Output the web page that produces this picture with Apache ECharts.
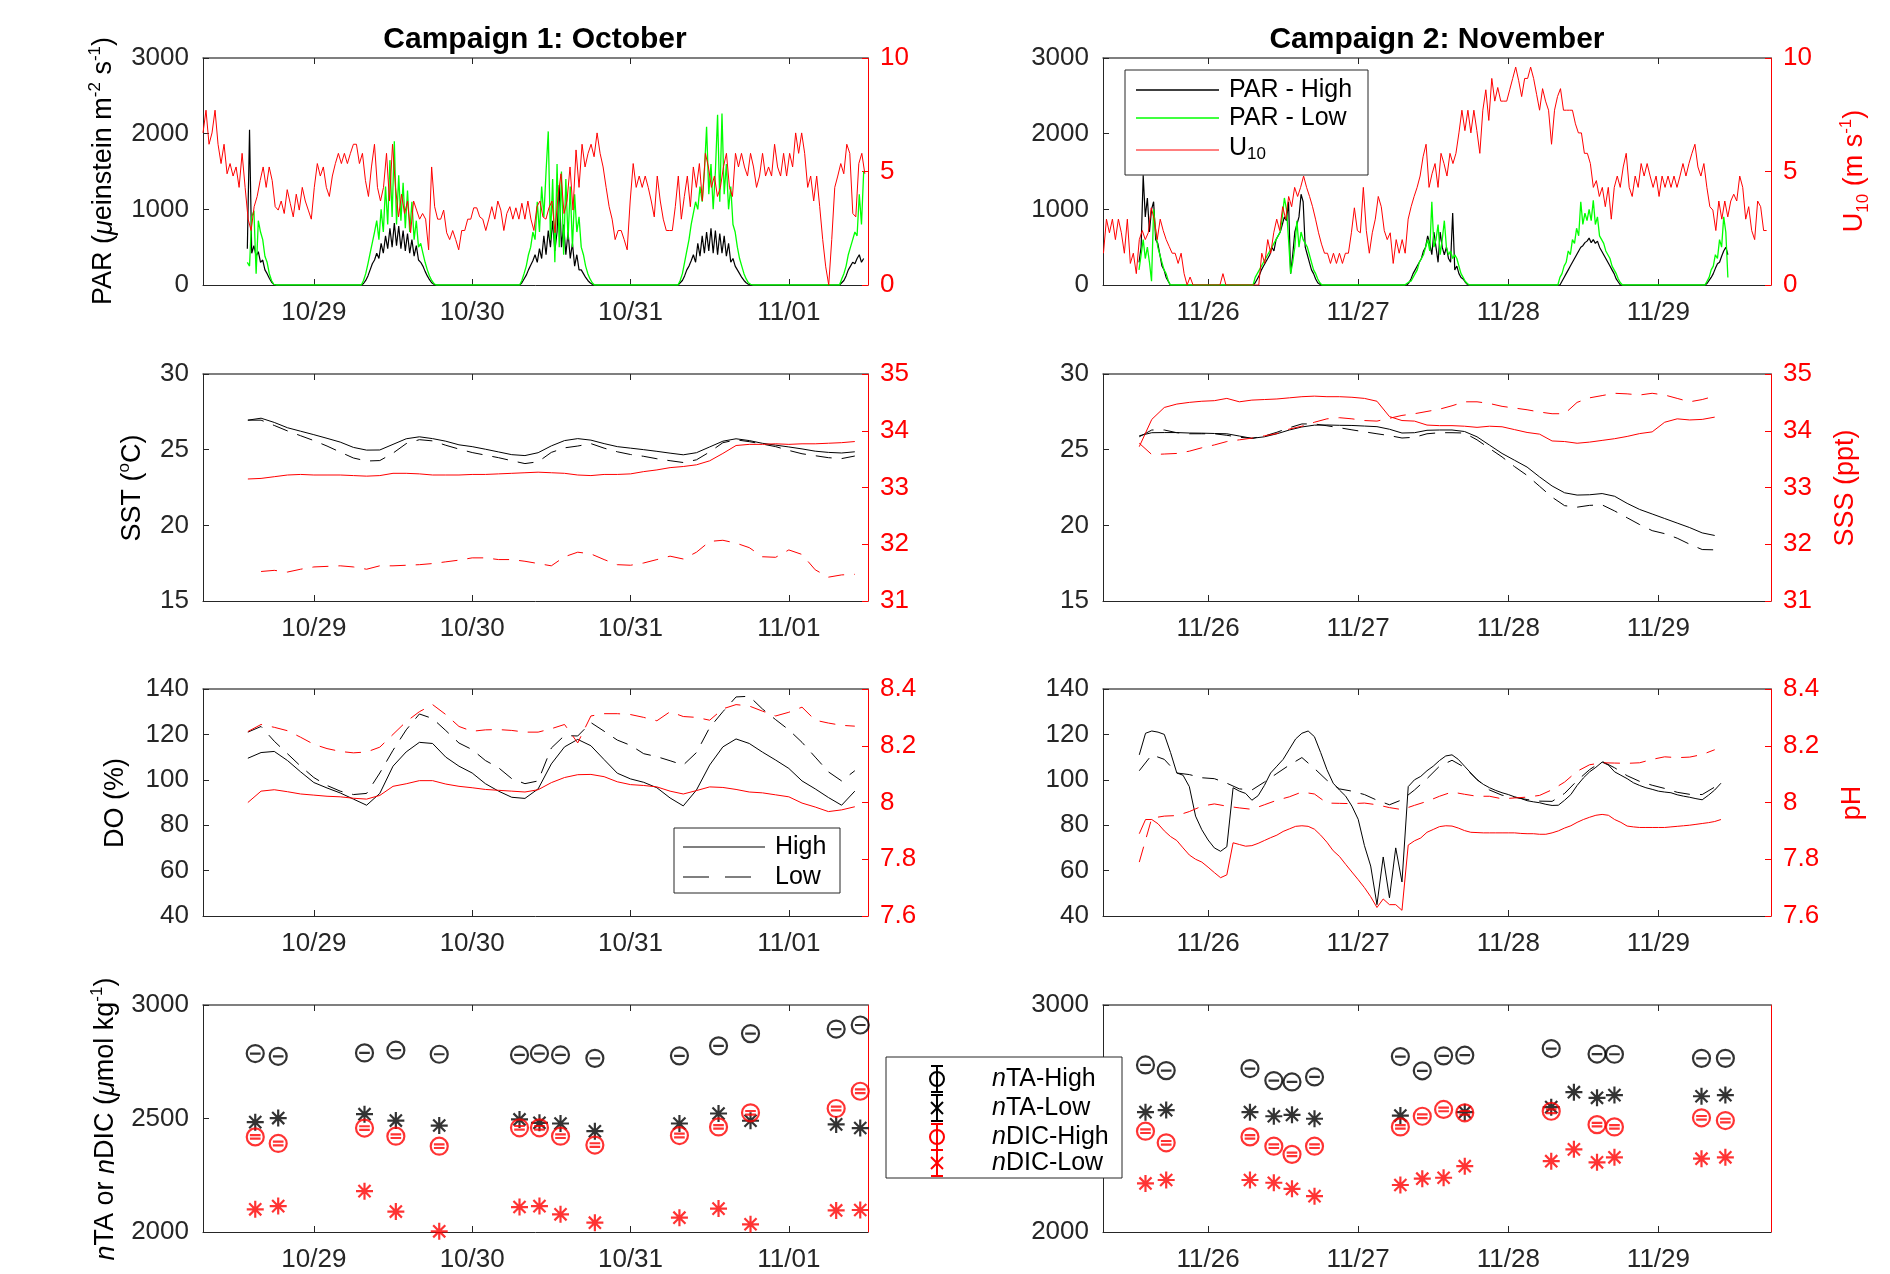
<!DOCTYPE html>
<html>
<head>
<meta charset="utf-8">
<script src="https://cdn.jsdelivr.net/npm/echarts@6/dist/echarts.min.js"></script>
<style>
  html, body { margin: 0; padding: 0; background: #ffffff; }
  #chart { width: 1890px; height: 1274px; }
</style>
</head>
<body>
<div id="chart"></div>
<script>
// ---------- time axes (days counted from the first labelled midnight) ----------
const octDayLabels = ['10/29', '10/30', '10/31', '11/01'];
const novDayLabels = ['11/26', '11/27', '11/28', '11/29'];
const octRange = [-0.70, 3.50];
const novRange = [-0.70, 3.75];

// ---------- PAR (daylight blocks, 20-min samples, zero at night) ----------
const PAR_STEP = 1 / 72;
const parOctStarts = [-0.42, 0.30, 1.30, 2.30, 3.32];
const parHighOct = [
  [480,2050,420,520,380,440,300,330,200,150,90,40,10,0],
  [0,20,60,120,200,280,330,420,350,550,420,650,480,750,500,820,520,780,480,720,450,680,420,600,380,520,330,300,250,180,120,70,30,10,0],
  [0,30,80,130,200,260,320,400,300,480,350,650,400,720,500,850,450,700,1320,500,800,400,700,350,550,250,400,200,200,150,100,60,30,10,0],
  [0,30,60,120,200,250,320,400,300,550,380,650,420,700,450,750,420,720,400,680,420,650,380,550,300,350,250,200,150,100,60,30,10,0,0],
  [0,30,60,120,200,250,300,280,350,400,300,350]
];
const parLowOct = [
  [300,250,900,980,150,850,700,600,380,300,150,60,10,0],
  [0,60,150,280,420,560,700,850,600,1000,700,1300,800,1650,900,1900,800,1450,850,1350,750,1250,700,1100,600,850,500,550,420,300,200,120,60,20,0],
  [0,60,150,250,400,500,700,600,1100,700,1300,900,1500,2030,600,1400,300,1600,500,1500,400,1400,600,1300,500,1200,700,900,500,400,250,150,80,30,0],
  [0,60,150,300,450,600,800,950,1100,1000,1300,1100,1500,2090,1200,1600,1000,1500,2250,1100,2266,1200,1600,1000,1300,800,700,500,350,250,150,80,30,10,0],
  [0,80,150,250,400,500,600,700,650,1200,800,1500]
];
const parNovStarts = [-0.46, 0.30, 1.31, 2.33, 3.31];
const parHighNov = [
  [300,500,1450,900,1150,700,1000,1100,600,550,400,250,200,100,50,0],
  [0,30,80,130,200,250,300,350,400,500,450,600,650,700,800,900,850,1100,150,400,700,800,900,1200,1100,500,400,300,200,150,80,30,10,0],
  [0,0,30,80,150,200,250,300,350,450,500,650,550,400,700,500,300,700,500,400,500,350,300,950,200,250,150,100,80,40,10,0],
  [0,0,50,100,150,200,250,300,350,400,450,500,520,560,580,620,560,600,550,580,500,450,400,350,300,250,200,150,80,40,0,0],
  [0,20,60,100,150,220,280,300,380,450,500,400]
];
const parLowNov = [
  [200,400,600,350,500,300,50,1000,700,500,400,300,200,150,60,0],
  [0,100,150,200,250,300,350,400,450,500,550,600,650,700,900,1150,1000,600,150,300,500,850,500,700,600,550,500,400,300,200,150,80,30,0],
  [0,20,40,50,100,150,200,300,350,400,500,600,450,1100,500,600,800,400,600,850,500,400,450,350,400,350,250,150,100,50,20,0],
  [0,100,150,250,300,450,400,600,550,750,650,1100,800,950,850,1000,850,1120,800,900,650,600,550,450,400,350,250,200,150,80,30,0],
  [0,50,100,200,250,400,350,600,500,900,700,100]
];

// ---------- U10 wind speed (m/s) ----------
const U10_OCT_T0 = -0.70, U10_OCT_STEP = 0.019;
const u10Oct = [6.7,7.7,6.2,6.7,7.7,6.2,5.35,6.2,4.9,5.35, 4.8,5.2,4.3,5.8,4.3,2.9,2.4,3.45,3.9,4.6,
  5.2,4.3,5.2,4.6,3.45,3.3,3.7,3.15,4.2,3.6, 3.0,4.0,3.3,4.3,3.7,3.3,2.9,4.3,5.35,4.8,
  5.2,4.3,3.9,4.8,5.35,5.8,5.35,5.8,5.35,5.8, 6.2,6.2,5.35,5.8,4.6,3.9,5.2,6.2,4.3,3.7,
  4.3,5.8,3.7,6.2,4.3,3.0,4.0,3.15,3.7,2.3, 3.7,3.3,2.9,3.15,2.9,1.55,5.2,3.45,2.9,2.9,
  3.3,2.3,2.0,2.4,2.0,1.55,2.4,2.4,2.9,2.9, 3.4,3.4,3.0,2.9,2.4,2.9,3.45,2.9,3.7,3.3,
  2.4,3.15,3.45,2.9,3.4,2.9,3.6,2.9,3.7,2.9, 2.4,3.45,3.7,3.0,2.9,3.4,3.7,2.3,3.9,4.9,
  3.15,3.7,5.2,3.3,5.95,4.3,6.2,5.2,5.8,6.2, 5.65,6.7,5.8,5.2,4.3,3.45,2.9,2.0,2.4,2.4,
  2.0,1.55,3.7,5.35,4.3,4.8,4.3,4.8,4.3,3.7, 3.0,4.8,3.7,2.9,2.4,2.4,2.4,3.45,4.8,2.9,
  3.9,4.8,3.45,5.2,4.3,5.35,3.7,5.8,5.2,4.3, 4.8,3.9,4.3,5.2,5.8,4.3,3.9,5.8,5.2,5.8,
  5.2,4.8,5.8,5.2,4.3,4.8,5.8,4.8,5.2,4.8, 6.2,5.2,4.8,5.8,4.8,5.8,5.2,6.7,5.8,6.7,
  5.8,4.3,4.8,3.7,4.8,3.45,2.0,0.8,0.0,2.0, 4.3,4.8,5.35,4.9,6.2,5.8,3.15,3.0,5.35,5.8, 4.9];
const U10_NOV_T0 = -0.697, U10_NOV_STEP = 0.0199;
const u10Nov = [1.4,2.9,2.3,2.9,2.0,2.9,2.3,1.4,2.9,0.95, 1.4,0.5,2.0,2.4,2.0,2.3,3.4,2.9,2.0,2.9,
  2.4,2.0,1.7,1.4,1.4,0.95,1.4,0.5,0,0.35, 0,0,0,0,0,0,0,0,0,0,
  0.5,0,0,0,0,0,0,0,0,0, 0,0,0,1.4,0.95,2.0,1.4,2.3,2.9,2.4,
  3.45,2.9,3.9,3.45,4.3,3.9,4.3,4.8,4.3,3.9, 3.45,2.9,2.3,1.8,1.4,1.4,0.95,1.4,0.95,1.4,
  0.95,1.4,1.4,2.3,3.4,2.4,2.3,4.3,2.4,1.4, 2.3,2.9,3.9,3.45,2.4,2.0,2.3,0.95,2.0,1.4,
  2.0,1.4,2.9,3.45,3.9,4.3,4.8,5.65,6.2,4.3, 4.9,5.35,4.3,5.8,5.35,4.8,5.8,5.35,5.8,6.7,
  7.7,6.8,7.7,6.7,7.7,6.8,5.8,7.7,8.6,7.25, 9.1,8.1,8.7,8.1,8.1,8.1,8.6,9.1,9.6,9.0,
  8.3,9.1,9.1,9.6,9.1,8.4,7.7,8.65,8.1,7.7, 6.2,7.7,8.3,8.65,7.7,7.7,7.7,7.7,7.1,6.7,
  6.7,5.8,5.8,5.35,4.3,4.6,3.9,4.3,3.45,4.3, 2.9,4.3,4.8,4.3,5.2,5.8,4.3,3.9,4.8,4.3,
  5.35,4.8,5.35,4.8,4.3,4.8,3.9,4.8,4.3,4.8, 4.3,4.8,4.3,4.8,5.35,4.8,5.35,5.8,6.2,5.2,
  4.8,5.35,4.3,3.45,3.3,2.4,3.7,2.9,3.7,3.0, 3.7,4.0,3.7,4.8,4.3,2.9,3.45,2.4,2.0,3.7,
  3.45,2.4,2.4];

// ---------- SST / SSS, DO / pH (2-hourly; November High DO & pH hourly) ----------
const OCT_T0 = -5 / 12, NOV_T0 = -11 / 24, STEP_2H = 1 / 12, STEP_1H = 1 / 24;
const sstHighOct = [26.95,27.08,26.8,26.45,26.22,25.99,25.75,25.5,25.15,24.97,24.98,25.35,25.72,25.85,25.73,25.56,25.32,25.2,25.03,24.85,24.67,24.61,24.8,25.25,25.6,25.73,25.63,25.4,25.2,25.1,25.0,24.89,24.77,24.66,24.8,25.18,25.56,25.72,25.6,25.42,25.3,25.18,25.05,24.9,24.82,24.78,24.86];
const sstLowOct = [26.95,26.95,26.6,26.24,25.92,25.6,25.24,24.84,24.45,24.25,24.28,24.77,25.4,25.66,25.58,25.29,25.04,24.81,24.64,24.47,24.27,24.08,24.2,24.82,25.12,25.24,25.4,25.1,24.86,24.68,24.56,24.4,24.27,24.15,24.33,24.85,25.46,25.65,25.53,25.37,25.2,24.95,24.73,24.6,24.47,24.41,24.58];
const sssHighOct = [33.15,33.16,33.19,33.22,33.23,33.22,33.22,33.22,33.21,33.2,33.21,33.25,33.25,33.24,33.22,33.22,33.22,33.23,33.23,33.24,33.25,33.26,33.27,33.26,33.25,33.22,33.21,33.23,33.23,33.24,33.28,33.31,33.35,33.37,33.4,33.47,33.6,33.74,33.76,33.76,33.77,33.76,33.77,33.77,33.78,33.79,33.81];
const sssLowOct = [null,31.52,31.54,31.51,31.56,31.6,31.61,31.62,31.6,31.56,31.62,31.62,31.63,31.64,31.66,31.69,31.72,31.76,31.76,31.73,31.73,31.7,31.66,31.62,31.78,31.86,31.83,31.73,31.64,31.63,31.67,31.73,31.79,31.74,31.86,32.05,32.07,32.02,31.94,31.78,31.77,31.9,31.82,31.55,31.42,31.46,31.47];
const sstHighNov = [25.92,26.12,26.13,26.13,26.1,26.09,26.07,26.05,25.9,25.75,25.85,26.05,26.3,26.5,26.62,26.63,26.61,26.6,26.56,26.52,26.35,26.1,26.12,26.28,26.3,26.3,26.2,25.85,25.3,24.75,24.3,23.85,23.2,22.6,22.15,22.0,22.02,22.1,21.92,21.45,21.05,20.75,20.45,20.15,19.85,19.5,19.33];
const sstLowNov = [25.85,26.3,26.3,26.12,26.05,26.05,26.05,25.95,25.82,25.75,25.9,26.15,26.45,26.7,26.7,26.58,26.45,26.31,26.18,26.05,25.93,25.77,25.82,26.05,26.12,26.12,26.1,25.65,25.08,24.52,23.88,23.3,22.58,21.86,21.3,21.2,21.32,21.35,20.95,20.5,20.05,19.65,19.45,19.15,18.75,18.4,18.38];
const sssHighNov = [33.72,34.2,34.41,34.47,34.5,34.52,34.53,34.57,34.51,34.54,34.55,34.56,34.58,34.6,34.61,34.6,34.6,34.59,34.57,34.52,34.25,34.18,34.17,34.1,34.09,34.09,34.08,34.06,34.08,34.07,34.02,33.97,33.94,33.82,33.81,33.78,33.8,33.83,33.86,33.9,33.95,33.98,34.15,34.21,34.19,34.2,34.24];
const sssLowNov = [33.78,33.58,33.59,33.6,33.64,33.7,33.75,33.81,33.84,33.87,33.91,33.95,34.03,34.08,34.15,34.21,34.23,34.21,34.18,34.17,34.22,34.27,34.3,34.34,34.38,34.44,34.51,34.51,34.48,34.43,34.4,34.37,34.33,34.3,34.3,34.5,34.58,34.62,34.66,34.65,34.63,34.66,34.63,34.57,34.51,34.55,34.61];

const doHighOct = [109.5,112,112.5,108.5,103.5,98.8,96.4,94.2,91.5,88.8,94,106,112.3,116.5,116,110,106,103,98.3,95,92.3,91.8,96,107,114.5,117.8,115,108.9,102.9,100.4,98.9,96.5,92,88.5,95.5,106.5,114.5,118,116,112.2,108.7,105,99.5,96,92.2,88.8,95];
const doLowOct = [121,123.5,117,111.5,106,101,97.5,95,93.5,94,103,113,122,129,127,121.7,116.2,113.3,108.5,105.3,100.5,98.3,99.5,114,119.5,119.3,125.2,121.4,117.5,115.2,111.5,110.2,108.4,106.5,112,123,130,136.5,136.8,131.2,126.5,122,116.5,110,103.5,99.5,104];
const phHighOct = [8.0,8.04,8.045,8.038,8.03,8.026,8.022,8.02,8.015,8.012,8.025,8.057,8.066,8.077,8.077,8.065,8.057,8.052,8.046,8.043,8.04,8.037,8.045,8.07,8.088,8.098,8.099,8.091,8.073,8.063,8.06,8.055,8.04,8.03,8.042,8.055,8.053,8.046,8.037,8.034,8.027,8.02,7.998,7.984,7.968,7.974,7.985];
const phLowOct = [8.25,8.275,8.265,8.253,8.23,8.205,8.19,8.18,8.175,8.178,8.195,8.24,8.285,8.32,8.345,8.31,8.268,8.251,8.256,8.257,8.254,8.248,8.248,8.26,8.275,8.21,8.305,8.313,8.313,8.31,8.3,8.288,8.32,8.303,8.3,8.29,8.33,8.345,8.34,8.322,8.305,8.318,8.336,8.29,8.28,8.272,8.269];
const doHighNov = [111,120.5,121.5,121,120,112,103,102,97,84,78,73.5,70,68.5,70.5,96.5,95,94,91,93,97.5,103,106,109,113.5,118,120.5,121.5,119,112,104.5,98.5,95.5,92.8,88.4,82.6,71,62,45,66,48,70,55,97,100,101.5,104,106,108.5,110.5,111,109,106,103,100.1,98,96.5,95.3,94.3,93.5,92.5,91.8,90.8,90.3,89.9,89.2,88.7,88.8,91,93.5,97.5,100.8,103.5,105.5,107.8,106.5,103.5,102,100.5,98.7,97.5,96.5,95.8,95,94.6,94.3,93.4,92.8,92.3,91.7,91.2,93.2,95.5,98.5];
const doLowNov = [104,111,109,103,102.3,100.9,100.5,98.5,96,95.5,99,102.8,106.5,109.8,105,99.8,96,95,93.5,91,89,91.2,95.5,100.5,106,108.6,105.5,100.1,95.5,93.2,92.3,91.3,90.6,90.5,94,99.6,104.5,108.1,105.3,101.8,99.3,97.6,96.2,94.5,93.6,93.5,96.8];
const phHighNov = [7.89,7.94,7.94,7.925,7.9,7.88,7.866,7.84,7.815,7.8,7.79,7.772,7.753,7.735,7.745,7.858,7.852,7.846,7.848,7.856,7.866,7.876,7.885,7.898,7.907,7.916,7.918,7.916,7.906,7.885,7.86,7.83,7.81,7.782,7.755,7.728,7.7,7.668,7.63,7.66,7.64,7.64,7.62,7.85,7.865,7.875,7.895,7.905,7.915,7.918,7.917,7.91,7.901,7.895,7.894,7.893,7.893,7.893,7.893,7.893,7.893,7.891,7.89,7.89,7.888,7.888,7.893,7.9,7.91,7.918,7.93,7.94,7.948,7.955,7.958,7.955,7.94,7.93,7.917,7.914,7.912,7.912,7.912,7.912,7.912,7.914,7.916,7.918,7.92,7.923,7.926,7.929,7.933,7.94];
const phLowNov = [7.79,7.945,7.952,7.954,7.968,7.987,7.995,7.987,7.981,7.976,7.992,8.008,8.02,8.037,8.03,7.998,7.997,7.996,7.998,7.992,7.982,7.975,7.99,8.004,8.022,8.037,8.029,8.022,8.022,8.013,8.016,8.019,8.025,8.045,8.072,8.11,8.133,8.14,8.139,8.138,8.14,8.152,8.161,8.158,8.16,8.169,8.186];

// ---------- discrete carbonate samples (µmol/kg) ----------
const octSampleDays = [-0.37,-0.225,0.32,0.518,0.792,1.299,1.425,1.558,1.775,2.309,2.556,2.758,3.299,3.451];
const ntaHighOct = [2786,2774,2789,2801,2783,2780,2786,2780,2765,2776,2820,2874,2894,2912];
const ntaLowOct  = [2484,2502,2519,2491,2469,2496,2481,2478,2444,2478,2522,2490,2474,2458];
const ndicHighOct = [2419,2390,2458,2422,2378,2459,2459,2422,2383,2425,2463,2525,2544,2620];
const ndicLowOct  = [2100,2114,2180,2090,2003,2110,2114,2078,2041,2063,2103,2034,2095,2097];
const novSampleDays = [-0.417,-0.279,0.279,0.438,0.559,0.709,1.281,1.427,1.569,1.710,2.286,2.437,2.591,2.707,3.287,3.446];
const ntaHighNov = [2736,2711,2720,2667,2661,2683,2773,2710,2776,2779,2808,null,2784,2783,2765,2765];
const ntaLowNov  = [2528,2537,2528,2510,2516,2499,2513,null,null,2528,2550,2616,2591,2603,2598,2603];
const ndicHighNov = [2444,2393,2419,2378,2342,2378,2463,2510,2540,2525,2532,null,2473,2463,2503,2491];
const ndicLowNov  = [2214,2229,2229,2217,2190,2158,2207,2235,2239,2290,2312,2364,2307,2329,2323,2329];

// ---------- styling ----------
const FONT = '"Liberation Sans", Arial, Helvetica, sans-serif';
const INK = '#000000', AXIS = '#262626', RED = '#ff0000', GREEN = '#00ff00';
const LEFTS = [203, 1103], WIDTHS = [665, 668], TOPS = [58, 374, 689, 1005], HEIGHT = 227;
const DASH = [16, 10];

// ---------- helpers ----------
const series2 = (vals, t0, step) => vals.map((v, i) => [t0 + i * step, v]);
const blockSeries = (starts, blocks, step) => {
  const out = [];
  blocks.forEach((b, k) => b.forEach((v, i) => out.push([starts[k] + i * step, v])));
  return out;
};
const pairs = (days, vals) => days.map((d, i) => [d, vals[i]]);

const grids = [];
const xAxes = [];
const yAxes = [];
const yRows = [
  [{ min: 0, max: 3000, interval: 1000 }, { min: 0, max: 10, interval: 5 }],
  [{ min: 15, max: 30, interval: 5 }, { min: 31, max: 35, interval: 1 }],
  [{ min: 40, max: 140, interval: 20 }, { min: 7.6, max: 8.4, interval: 0.2 }],
  [{ min: 2000, max: 3000, interval: 500 }, { min: 2000, max: 3000, interval: 500 }]
];
const fmt = v => String(+v.toFixed(1));

for (let r = 0; r < 4; r++) {
  for (let c = 0; c < 2; c++) {
    const g = r * 2 + c;
    grids.push({ left: LEFTS[c], top: TOPS[r], width: WIDTHS[c], height: HEIGHT, containLabel: false });
    const range = c === 0 ? octRange : novRange;
    const labels = c === 0 ? octDayLabels : novDayLabels;
    const ticks = labels.map((_, i) => i);
    xAxes.push({
      type: 'value', gridIndex: g, position: 'bottom', min: range[0], max: range[1],
      axisLine: { show: true, onZero: false, lineStyle: { color: AXIS, width: 1 } },
      axisTick: { show: true, inside: true, length: 6, customValues: ticks, lineStyle: { color: AXIS } },
      axisLabel: { show: true, customValues: ticks, formatter: v => labels[Math.round(v)],
        fontSize: 26, fontFamily: FONT, color: AXIS, margin: 15 },
      splitLine: { show: false }
    });
    xAxes.push({
      type: 'value', gridIndex: g, position: 'top', min: range[0], max: range[1],
      axisLine: { show: true, onZero: false, lineStyle: { color: '#555555', width: 1.5 } },
      axisTick: { show: true, inside: true, length: 6, customValues: ticks, lineStyle: { color: AXIS } },
      axisLabel: { show: false }, splitLine: { show: false }
    });
    const L = yRows[r][0], R = yRows[r][1];
    const leftInterval = (r === 3 && c === 1) ? 1000 : L.interval;
    yAxes.push({
      type: 'value', gridIndex: g, position: 'left', min: L.min, max: L.max, interval: leftInterval,
      axisLine: { show: true, onZero: false, lineStyle: { color: AXIS, width: 1 } },
      axisTick: { show: true, inside: true, length: 6, lineStyle: { color: AXIS } },
      axisLabel: { show: true, formatter: fmt, fontSize: 26, fontFamily: FONT, color: AXIS, margin: 14 },
      splitLine: { show: false }
    });
    const lastRow = r === 3;
    yAxes.push({
      type: 'value', gridIndex: g, position: 'right', min: R.min, max: R.max, interval: R.interval,
      axisLine: { show: true, onZero: false, lineStyle: { color: RED, width: 1 } },
      axisTick: { show: !lastRow, inside: true, length: 6, lineStyle: { color: RED } },
      axisLabel: { show: !lastRow, formatter: fmt, fontSize: 26, fontFamily: FONT, color: RED, margin: 12 },
      splitLine: { show: false }
    });
  }
}

const line = (g, side, data, color, dashed, width) => ({
  type: 'line', xAxisIndex: 2 * g, yAxisIndex: 2 * g + side, data,
  showSymbol: false, symbol: 'none', silent: true, animation: false,
  lineStyle: { color, width: width || 1, type: dashed ? DASH : 'solid' },
  emphasis: { disabled: true }
});

const CIRCLE_BAR = 'path://M0,8A8,8,0,1,1,0,-8A8,8,0,1,1,0,8ZM-5,0L5,0';
const CIRCLE_BAR2 = 'path://M0,8A8,8,0,1,1,0,-8A8,8,0,1,1,0,8ZM-5,-1.7L5,-1.7M-5,1.7L5,1.7';
const ASTER = 'path://M0,-8L0,8M-8,0L8,0M-5.7,-5.7L5.7,5.7M-5.7,5.7L5.7,-5.7';
const marks = (g, data, symbol, color) => ({
  type: 'scatter', xAxisIndex: 2 * g, yAxisIndex: 2 * g, data,
  symbol, symbolSize: 17, symbolKeepAspect: true, silent: true, animation: false,
  itemStyle: { color: 'rgba(0,0,0,0)', borderColor: color, borderWidth: 2.2 },
  emphasis: { disabled: true }
});

const series = [
  // PAR & U10
  line(0, 0, blockSeries(parOctStarts, parHighOct, PAR_STEP), INK, false, 1.2),
  line(0, 0, blockSeries(parOctStarts, parLowOct, PAR_STEP), GREEN, false, 1.3),
  line(0, 1, series2(u10Oct, U10_OCT_T0, U10_OCT_STEP), RED),
  line(1, 0, blockSeries(parNovStarts, parHighNov, PAR_STEP), INK, false, 1.2),
  line(1, 0, blockSeries(parNovStarts, parLowNov, PAR_STEP), GREEN, false, 1.3),
  line(1, 1, series2(u10Nov, U10_NOV_T0, U10_NOV_STEP), RED),
  // SST & SSS
  line(2, 0, series2(sstHighOct, OCT_T0, STEP_2H), INK),
  line(2, 0, series2(sstLowOct, OCT_T0, STEP_2H), INK, true),
  line(2, 1, series2(sssHighOct, OCT_T0, STEP_2H), RED),
  line(2, 1, series2(sssLowOct, OCT_T0, STEP_2H), RED, true),
  line(3, 0, series2(sstHighNov, NOV_T0, STEP_2H), INK),
  line(3, 0, series2(sstLowNov, NOV_T0, STEP_2H), INK, true),
  line(3, 1, series2(sssHighNov, NOV_T0, STEP_2H), RED),
  line(3, 1, series2(sssLowNov, NOV_T0, STEP_2H), RED, true),
  // DO & pH
  line(4, 0, series2(doHighOct, OCT_T0, STEP_2H), INK),
  line(4, 0, series2(doLowOct, OCT_T0, STEP_2H), INK, true),
  line(4, 1, series2(phHighOct, OCT_T0, STEP_2H), RED),
  line(4, 1, series2(phLowOct, OCT_T0, STEP_2H), RED, true),
  line(5, 0, series2(doHighNov, NOV_T0, STEP_1H), INK),
  line(5, 0, series2(doLowNov, NOV_T0, STEP_2H), INK, true),
  line(5, 1, series2(phHighNov, NOV_T0, STEP_1H), RED),
  line(5, 1, series2(phLowNov, NOV_T0, STEP_2H), RED, true),
  // nTA & nDIC samples
  marks(6, pairs(octSampleDays, ntaHighOct), CIRCLE_BAR, INK),
  marks(6, pairs(octSampleDays, ntaLowOct), ASTER, INK),
  marks(6, pairs(octSampleDays, ndicHighOct), CIRCLE_BAR2, RED),
  marks(6, pairs(octSampleDays, ndicLowOct), ASTER, RED),
  marks(7, pairs(novSampleDays, ntaHighNov), CIRCLE_BAR, INK),
  marks(7, pairs(novSampleDays, ntaLowNov), ASTER, INK),
  marks(7, pairs(novSampleDays, ndicHighNov), CIRCLE_BAR2, RED),
  marks(7, pairs(novSampleDays, ndicLowNov), ASTER, RED)
];

// ---------- titles, axis names and legends ----------
const rich = color => ({
  it: { fontStyle: 'italic', fontSize: 27, fontFamily: FONT, fill: color, lineHeight: 34 },
  sup: { fontSize: 17, fontFamily: FONT, fill: color, lineHeight: 18, verticalAlign: 'top' },
  sub: { fontSize: 17, fontFamily: FONT, fill: color, lineHeight: 18, verticalAlign: 'bottom' }
});
const vText = (x, y, text, color) => ({
  type: 'text', x, y, rotation: Math.PI / 2, z: 100,
  style: { text, fontSize: 27, fontFamily: FONT, fill: color, lineHeight: 34,
    align: 'center', verticalAlign: 'middle', rich: rich(color) }
});
const hText = (x, y, text, size, color) => ({
  type: 'text', x, y, z: 101,
  style: { text, fontSize: size, fontFamily: FONT, fill: color, lineHeight: 30,
    align: 'left', verticalAlign: 'middle', rich: {
      it: { fontStyle: 'italic', fontSize: size, fontFamily: FONT, fill: color, lineHeight: 30 },
      sub: { fontSize: 17, fontFamily: FONT, fill: color, lineHeight: 16, verticalAlign: 'bottom' }
    } }
});
const seg = (x1, y1, x2, y2, color, width, dash) => ({
  type: 'line', z: 101, shape: { x1, y1, x2, y2 },
  style: { stroke: color, lineWidth: width, lineDash: dash || null }
});
const box = (x, y, w, h) => ({
  type: 'rect', z: 100, shape: { x, y, width: w, height: h },
  style: { fill: '#ffffff', stroke: AXIS, lineWidth: 1 }
});
// error-bar legend glyph: vertical bar with caps and the sample marker
const icon = (cx, cy, kind, color) => {
  const parts = [
    seg(cx, cy - 13, cx, cy + 13, color, 2),
    seg(cx - 6, cy - 13, cx + 6, cy - 13, color, 2),
    seg(cx - 6, cy + 13, cx + 6, cy + 13, color, 2)
  ];
  if (kind === 'circle') {
    parts.push({ type: 'circle', z: 102, shape: { cx, cy, r: 7 }, style: { fill: 'none', stroke: color, lineWidth: 2 } });
  } else {
    parts.push(seg(cx - 6, cy - 6, cx + 6, cy + 6, color, 2), seg(cx - 6, cy + 6, cx + 6, cy - 6, color, 2));
  }
  return parts;
};

const graphics = [
  { type: 'text', x: 535, y: 40, z: 100, style: { text: 'Campaign 1: October', fontSize: 30, fontWeight: 'bold',
      fontFamily: FONT, fill: INK, align: 'center', verticalAlign: 'middle' } },
  { type: 'text', x: 1437, y: 40, z: 100, style: { text: 'Campaign 2: November', fontSize: 30, fontWeight: 'bold',
      fontFamily: FONT, fill: INK, align: 'center', verticalAlign: 'middle' } },
  vText(104, 171, 'PAR ({it|μ}einstein m{sup|-2} s{sup|-1})', INK),
  vText(133, 488, 'SST ({sup|o}C)', INK),
  vText(116, 803, 'DO (%)', INK),
  vText(106, 1119, '{it|n}TA or {it|n}DIC ({it|μ}mol kg{sup|-1})', INK),
  vText(1855, 171, 'U{sub|10} (m s{sup|-1})', RED),
  vText(1846, 488, 'SSS (ppt)', RED),
  vText(1853, 803, 'pH', RED),
  // PAR legend
  box(1125, 70, 243, 105),
  seg(1136, 90, 1219, 90, INK, 1.5), hText(1229, 90, 'PAR - High', 25, INK),
  seg(1136, 118, 1219, 118, GREEN, 1.5), hText(1229, 118, 'PAR - Low', 25, INK),
  seg(1136, 150, 1219, 150, RED, 1), hText(1229, 148, 'U{sub|10}', 25, INK),
  // DO legend
  box(674, 828, 166, 65),
  seg(683, 847, 765, 847, INK, 1.2), hText(775, 847, 'High', 25, INK),
  seg(683, 877, 765, 877, INK, 1.2, [26, 16]), hText(775, 877, 'Low', 25, INK),
  // sample legend
  box(886, 1057, 236, 121),
  ...icon(937, 1079, 'circle', INK), hText(992, 1079, '{it|n}TA-High', 25, INK),
  ...icon(937, 1108, 'cross', INK), hText(992, 1108, '{it|n}TA-Low', 25, INK),
  ...icon(937, 1137, 'circle', RED), hText(992, 1137, '{it|n}DIC-High', 25, INK),
  ...icon(937, 1163, 'cross', RED), hText(992, 1163, '{it|n}DIC-Low', 25, INK)
];

const chart = echarts.init(document.getElementById('chart'), null, { renderer: 'canvas' });
chart.setOption({
  animation: false,
  backgroundColor: '#ffffff',
  grid: grids,
  xAxis: xAxes,
  yAxis: yAxes,
  series,
  graphic: { elements: graphics }
});
</script>
</body>
</html>
